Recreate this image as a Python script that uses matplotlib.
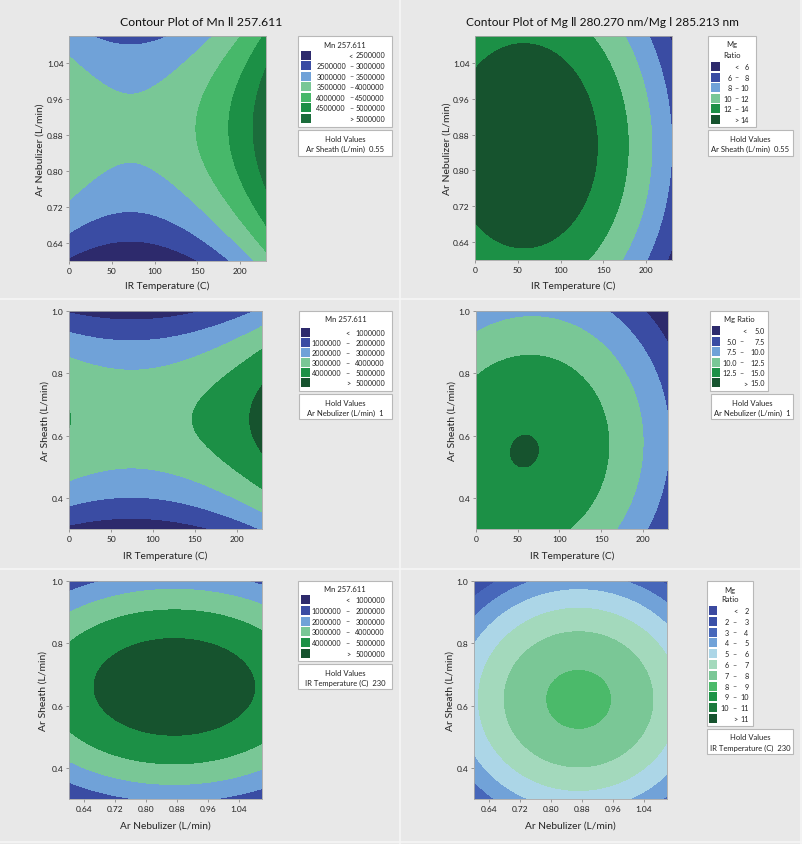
import numpy as np
import matplotlib
matplotlib.use('Agg')
import matplotlib.pyplot as plt
from matplotlib.patches import Rectangle
from matplotlib.lines import Line2D

plt.rcParams['font.family'] = ['Lato', 'DejaVu Sans']

W, H = 803, 845

# axis ranges and ticks
temp_lim = [0, 230]
neb_lim = [0.6, 1.1]
sheath_lim = [0.3, 1.0]
temp_ticks = [0, 50, 100, 150, 200]
neb_ticks = [0.64, 0.72, 0.80, 0.88, 0.96, 1.04]
sheath_ticks = [0.4, 0.6, 0.8, 1.0]

# contour levels
mn_levels_top = [2500000, 3000000, 3500000, 4000000, 4500000, 5000000]
mn_levels = [1000000, 2000000, 3000000, 4000000, 5000000]
mg_levels_top = [6, 8, 10, 12, 14]
mg_levels_mid = [5.0, 7.5, 10.0, 12.5, 15.0]
mg_levels_bot = [2, 3, 4, 5, 6, 7, 8, 9, 10, 11]

# response surfaces:
# [value at centre, x centre, y centre, x curvature, y curvature, cross term]
mn_temp_neb = [3.60e6, 71.6, 0.895, 68.2, -17.5e6, 0.0]
mg_temp_neb = [15.97, 57, 0.855, -2.67e-4, -37.9, 0.0]
mn_temp_sheath = [3.64e6, 74.5, 0.653, 68.7, -26e6, 0.0]
mg_temp_sheath = [15.07, 58, 0.55, -2.52e-4, -27.3, 0.011]
mn_neb_sheath = [5.65e6, 0.873, 0.66, -15e6, -27e6, 0.0]
mg_neb_sheath = [8.225, 0.871, 0.62, -33, -26, 0.0]

# colours
navy = '#2d2a6c'
blue = '#3a4ca3'
lblue = '#70a2d8'
lgreen = '#79c796'
green = '#47b86a'
mgreen = '#1c9046'
dgreen = '#1b6c3b'
ddgreen = '#16532e'
mn_top_colors = [navy, blue, lblue, lgreen, green, mgreen, dgreen]
six_colors = [navy, blue, lblue, lgreen, mgreen, ddgreen]
mg_bot_colors = ['#3b4aa0', '#3a50a8', '#4767ba', '#71a2d8', '#acd6e7', '#a3d9bc',
                 '#7ac796', '#4bba6a', '#1d9447', '#1c7a3e', '#16532e']

LEG_FS = 5.2
TXT = '#222222'


def fx(x):
    return x / W


def fy(y):
    return 1 - y / H


def surface(c, X, Y):
    z0, x0, y0, kx, ky, kxy = c
    dx, dy = X - x0, Y - y0
    return z0 + kx * dx ** 2 + ky * dy ** 2 + kxy * dx * dy


def rows_from_levels(levels, fmt):
    rows = [('', '<', fmt(levels[0]))]
    for a, b in zip(levels[:-1], levels[1:]):
        rows.append((fmt(a), '\u2013', fmt(b)))
    rows.append(('', '>', fmt(levels[-1])))
    return rows


fig = plt.figure(figsize=(W / 100, H / 100), dpi=100)
fig.patch.set_facecolor('#e8e8e8')

# panel separators
for x in [400, 801]:
    fig.add_artist(Line2D([fx(x), fx(x)], [0, 1], color='#f6f6f6', lw=1.2))
for y in [300, 570, 843]:
    fig.add_artist(Line2D([0, 1], [fy(y), fy(y)], color='#f6f6f6', lw=1.2))


def box(x0, y0, x1, y1):
    fig.add_artist(Rectangle((fx(x0), fy(y1)), (x1 - x0) / W, (y1 - y0) / H,
                             transform=fig.transFigure, facecolor='white',
                             edgecolor='#b8b8b8', lw=0.8))


def legend(rect, title_lines, rows, colors, row_y0, step, sw, cols, hold_rect, hold_text):
    x0, y0, x1, y1 = rect
    box(x0, y0, x1, y1)
    for line, ty in title_lines:
        fig.text(fx((x0 + x1) / 2), fy(ty), line, ha='center', va='center',
                 fontsize=LEG_FS + 0.3, color=TXT)
    L, D, S, R = cols
    sw_x, sw_w = sw
    for i, ((a, s, b), col) in enumerate(zip(rows, colors)):
        yy = row_y0 + i * step
        fig.add_artist(Rectangle((fx(sw_x), fy(yy + 4.5)), sw_w / W, 9 / H,
                                 transform=fig.transFigure, facecolor=col,
                                 edgecolor='none'))
        if a:
            fig.text(fx(L), fy(yy), a, ha='right', va='center', fontsize=LEG_FS, color=TXT)
            fig.text(fx(D), fy(yy), s, ha='center', va='center', fontsize=LEG_FS, color=TXT)
        else:
            fig.text(fx(S), fy(yy), s, ha='center', va='center', fontsize=LEG_FS, color=TXT)
        fig.text(fx(R), fy(yy), b, ha='right', va='center', fontsize=LEG_FS, color=TXT)
    hx0, hy0, hx1, hy1 = hold_rect
    box(hx0, hy0, hx1, hy1)
    fig.text(fx((hx0 + hx1) / 2), fy(hy0 + 8), 'Hold Values', ha='center', va='center',
             fontsize=LEG_FS + 0.3, color=TXT)
    fig.text(fx((hx0 + hx1) / 2), fy(hy0 + 18), hold_text, ha='center', va='center',
             fontsize=LEG_FS + 0.3, color=TXT)


def panel(pos, lims, ticks, coeffs, levels, colors, xlabel, ylabel, xlab_y, ylab_x, tickfmt):
    x0, y0, x1, y1 = pos
    ax = fig.add_axes([fx(x0), fy(y1), (x1 - x0) / W, (y1 - y0) / H])
    xs = np.linspace(lims[0][0], lims[0][1], 400)
    ys = np.linspace(lims[1][0], lims[1][1], 400)
    X, Y = np.meshgrid(xs, ys)
    Z = surface(coeffs, X, Y)
    ax.contourf(X, Y, Z, levels=[-1e15] + list(levels) + [1e15], colors=colors)
    ax.set_xlim(lims[0])
    ax.set_ylim(lims[1])
    ax.set_xticks(ticks[0])
    ax.set_yticks(ticks[1])
    ax.set_xticklabels([tickfmt[0] % t for t in ticks[0]])
    ax.set_yticklabels([tickfmt[1] % t for t in ticks[1]])
    ax.tick_params(labelsize=6, length=2.5, width=0.6, pad=1.5, colors='#888888',
                   labelcolor=TXT)
    for s in ax.spines.values():
        s.set_color('#a8a8a8')
        s.set_linewidth(0.6)
    fig.text(fx((x0 + x1) / 2), fy(xlab_y), xlabel, ha='center', va='center',
             fontsize=7.3, color=TXT)
    fig.text(fx(ylab_x), fy((y0 + y1) / 2), ylabel, ha='center', va='center',
             rotation=90, fontsize=7.5, color=TXT)
    return ax


fmt_int = lambda v: '%d' % v
fmt_one = lambda v: '%.1f' % v

# titles
fig.text(fx(201), fy(22), 'Contour Plot of Mn \u2161 257.611', ha='center', va='center',
         fontsize=8.8, color='#111111')
fig.text(fx(602), fy(22), 'Contour Plot of Mg \u2161 280.270 nm/Mg \u2160 285.213 nm',
         ha='center', va='center', fontsize=8.6, color='#111111')

# row 1
panel((69, 37, 266, 262), [temp_lim, neb_lim], [temp_ticks, neb_ticks], mn_temp_neb,
      mn_levels_top, mn_top_colors, 'IR Temperature (C)', 'Ar Nebulizer (L/min)', 286, 40,
      ['%d', '%.2f'])
legend((298, 37, 392, 128), [('Mn 257.611', 45)], rows_from_levels(mn_levels_top, fmt_int),
       mn_top_colors, 56, 10.55, (301, 10), (346, 351.3, 351, 385),
       (298, 131, 392, 157), 'Ar Sheath (L/min)  0.55')

panel((475, 37, 672, 261), [temp_lim, neb_lim], [temp_ticks, neb_ticks], mg_temp_neb,
      mg_levels_top, six_colors, 'IR Temperature (C)', 'Ar Nebulizer (L/min)', 286, 447,
      ['%d', '%.2f'])
legend((708, 37, 756, 128), [('Mg', 44), ('Ratio', 55)], rows_from_levels(mg_levels_top, fmt_int),
       six_colors, 67.7, 10.5, (711, 9), (731.5, 736.5, 736.5, 748.5),
       (708, 131, 793, 157), 'Ar Sheath (L/min)  0.55')

# row 2
panel((69, 312, 262, 530), [temp_lim, sheath_lim], [temp_ticks, sheath_ticks], mn_temp_sheath,
      mn_levels, six_colors, 'IR Temperature (C)', 'Ar Sheath (L/min)', 556, 45,
      ['%d', '%.1f'])
legend((299, 312, 392, 392), [('Mn 257.611', 320)], rows_from_levels(mn_levels, fmt_int),
       six_colors, 333.3, 10.1, (301, 9.5), (341.5, 347.5, 348, 385),
       (299, 395, 392, 420), 'Ar Nebulizer (L/min)  1')

panel((476, 312, 668, 530), [temp_lim, sheath_lim], [temp_ticks, sheath_ticks], mg_temp_sheath,
      mg_levels_mid, six_colors, 'IR Temperature (C)', 'Ar Sheath (L/min)', 556, 452,
      ['%d', '%.1f'])
legend((710, 312, 768, 392), [('Mg Ratio', 320)], rows_from_levels(mg_levels_mid, fmt_one),
       six_colors, 331.7, 10.45, (712, 8), (737, 741.5, 745, 765),
       (711, 395, 793, 420), 'Ar Nebulizer (L/min)  1')

# row 3
panel((69, 582, 262, 800), [neb_lim, sheath_lim], [neb_ticks, sheath_ticks], mn_neb_sheath,
      mn_levels, six_colors, 'Ar Nebulizer (L/min)', 'Ar Sheath (L/min)', 826, 43,
      ['%.2f', '%.1f'])
legend((298, 582, 392, 662), [('Mn 257.611', 589)], rows_from_levels(mn_levels, fmt_int),
       six_colors, 600.7, 10.7, (301, 9.5), (341.5, 347.5, 348, 385),
       (298, 665, 392, 690), 'IR Temperature (C)  230')

panel((474, 582, 667, 800), [neb_lim, sheath_lim], [neb_ticks, sheath_ticks], mg_neb_sheath,
      mg_levels_bot, mg_bot_colors, 'Ar Nebulizer (L/min)', 'Ar Sheath (L/min)', 826, 450,
      ['%.2f', '%.1f'])
legend((707, 582, 753, 727), [('Mg', 590), ('Ratio', 600)], rows_from_levels(mg_levels_bot, fmt_int),
       mg_bot_colors, 611.7, 10.76, (709, 8.5), (729, 734.5, 735.5, 748.5),
       (707, 730, 793, 755), 'IR Temperature (C)  230')

fig.savefig('out.png', dpi=100, facecolor=fig.get_facecolor())
